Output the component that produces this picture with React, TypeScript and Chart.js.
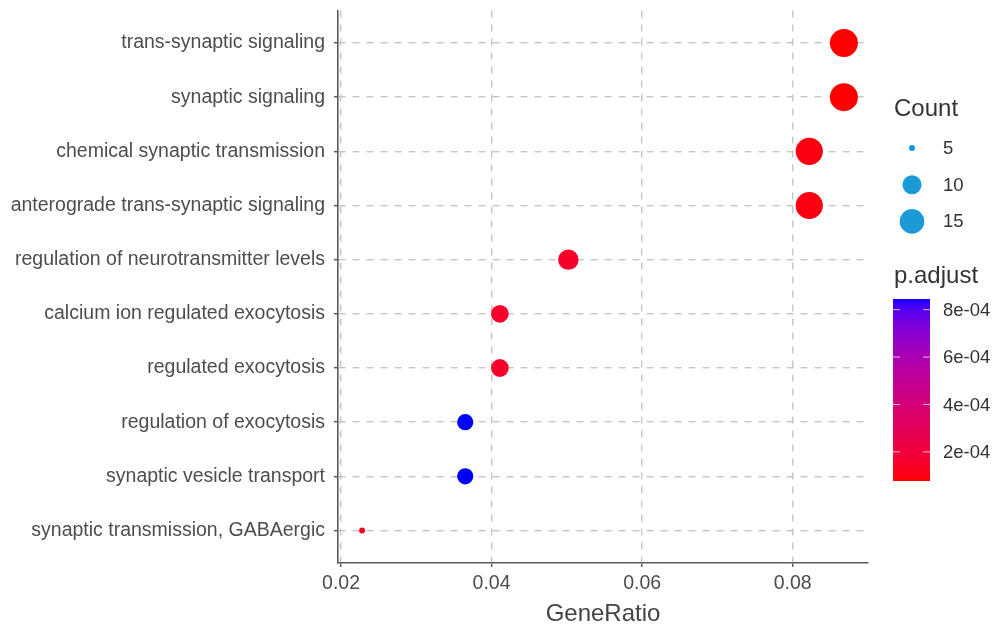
import React, { useEffect, useRef } from "react";
import { Chart, registerables } from "chart.js";

Chart.register(...registerables);

const FONT = "'Liberation Sans', Arial, Helvetica, sans-serif";

// ---- data ----
const categories = [
  "trans-synaptic signaling",
  "synaptic signaling",
  "chemical synaptic transmission",
  "anterograde trans-synaptic signaling",
  "regulation of neurotransmitter levels",
  "calcium ion regulated exocytosis",
  "regulated exocytosis",
  "regulation of exocytosis",
  "synaptic vesicle transport",
  "synaptic transmission, GABAergic",
];
const geneRatio = [0.0868, 0.0868, 0.0822, 0.0822, 0.0502, 0.0411, 0.0411, 0.0365, 0.0365, 0.0228];
const counts = [19, 19, 18, 18, 11, 9, 9, 8, 8, 5];
const pAdjust = [7.7e-5, 7.7e-5, 1.0e-4, 1.0e-4, 1.5e-4, 1.5e-4, 1.5e-4, 8.45e-4, 8.45e-4, 1.3e-4];
const xTicks = [0.02, 0.04, 0.06, 0.08];
const xTickLabels = ["0.02", "0.04", "0.06", "0.08"];
const countLegend = [5, 10, 15];
const pLegendTicks = [8e-4, 6e-4, 4e-4, 2e-4];
const pLegendLabels = ["8e-04", "6e-04", "4e-04", "2e-04"];

// ---- colour helpers (CIELAB interpolation like ggplot) ----
function toLin(c: number) {
  c /= 255;
  return c <= 0.04045 ? c / 12.92 : Math.pow((c + 0.055) / 1.055, 2.4);
}
function fromLin(c: number) {
  const v = c <= 0.0031308 ? 12.92 * c : 1.055 * Math.pow(c, 1 / 2.4) - 0.055;
  return Math.max(0, Math.min(255, Math.round(v * 255)));
}
function rgbToLab(rgb: number[]) {
  const R = toLin(rgb[0]), G = toLin(rgb[1]), B = toLin(rgb[2]);
  const X = (0.4124564 * R + 0.3575761 * G + 0.1804375 * B) / 0.95047;
  const Y = 0.2126729 * R + 0.7151522 * G + 0.072175 * B;
  const Z = (0.0193339 * R + 0.119192 * G + 0.9503041 * B) / 1.08883;
  const f = (t: number) => (t > 0.008856 ? Math.cbrt(t) : 7.787 * t + 16 / 116);
  const fx = f(X), fy = f(Y), fz = f(Z);
  return [116 * fy - 16, 500 * (fx - fy), 200 * (fy - fz)];
}
function labToRgb(lab: number[]) {
  const fy = (lab[0] + 16) / 116;
  const fx = fy + lab[1] / 500;
  const fz = fy - lab[2] / 200;
  const inv = (t: number) => (t * t * t > 0.008856 ? t * t * t : (t - 16 / 116) / 7.787);
  const X = inv(fx) * 0.95047, Y = inv(fy), Z = inv(fz) * 1.08883;
  const R = 3.2404542 * X - 1.5371385 * Y - 0.4985314 * Z;
  const G = -0.969266 * X + 1.8760108 * Y + 0.041556 * Z;
  const B = 0.0556434 * X - 0.2040259 * Y + 1.0572252 * Z;
  return `rgb(${fromLin(R)},${fromLin(G)},${fromLin(B)})`;
}
const LAB_LOW = rgbToLab([255, 0, 0]);
const LAB_HIGH = rgbToLab([0, 0, 255]);
const pMin = Math.min(...pAdjust);
const pMax = Math.max(...pAdjust);
function pColor(p: number) {
  const t = Math.max(0, Math.min(1, (p - pMin) / (pMax - pMin)));
  return labToRgb([0, 1, 2].map((k) => LAB_LOW[k] + t * (LAB_HIGH[k] - LAB_LOW[k])));
}

// size mapping (area scale, range 1..6)
const cMin = Math.min(...counts);
const cMax = Math.max(...counts);
function radiusOf(c: number) {
  const t = Math.max(0, (c - cMin) / (cMax - cMin));
  const size = 1 + 5 * Math.sqrt(t);
  return 2.2 * size + 0.8;
}

const xRange = Math.max(...geneRatio) - Math.min(...geneRatio);
const xMin = Math.min(...geneRatio) - 0.05 * xRange;
const xMax = Math.max(...geneRatio) + 0.05 * xRange;

const legendPlugin = {
  id: "ggLegend",
  afterDraw(chart: any) {
    const ctx = chart.ctx as CanvasRenderingContext2D;
    ctx.save();
    // Count legend
    ctx.fillStyle = "#333333";
    ctx.textAlign = "left";
    ctx.textBaseline = "alphabetic";
    ctx.font = `24px ${FONT}`;
    ctx.fillText("Count", 894, 116);
    ctx.font = `18.5px ${FONT}`;
    ctx.textBaseline = "middle";
    countLegend.forEach((c, i) => {
      const y = 148 + i * 36.7;
      ctx.beginPath();
      ctx.fillStyle = "#1a9ad6";
      ctx.arc(912, y, radiusOf(c), 0, Math.PI * 2);
      ctx.fill();
      ctx.fillStyle = "#333333";
      ctx.fillText(String(c), 943, y + 1);
    });
    // p.adjust colorbar
    ctx.textBaseline = "alphabetic";
    ctx.font = `24px ${FONT}`;
    ctx.fillText("p.adjust", 894, 283);
    const top = 299, bottom = 481, left = 893, w = 37;
    for (let py = top; py < bottom; py++) {
      const p = pMax - ((py + 0.5 - top) / (bottom - top)) * (pMax - pMin);
      ctx.fillStyle = pColor(p);
      ctx.fillRect(left, py, w, 1);
    }
    ctx.font = `18.5px ${FONT}`;
    ctx.textBaseline = "middle";
    pLegendTicks.forEach((p, i) => {
      const y = top + ((pMax - p) / (pMax - pMin)) * (bottom - top);
      ctx.strokeStyle = "rgba(255,255,255,0.75)";
      ctx.lineWidth = 1;
      ctx.beginPath();
      ctx.moveTo(left, y);
      ctx.lineTo(left + 7, y);
      ctx.moveTo(left + w - 7, y);
      ctx.lineTo(left + w, y);
      ctx.stroke();
      ctx.fillStyle = "#333333";
      ctx.fillText(pLegendLabels[i], 943, y + 1);
    });
    ctx.restore();
  },
};

export default function App() {
  const ref = useRef<HTMLCanvasElement>(null);
  useEffect(() => {
    if (!ref.current) return;
    Chart.defaults.font.family = FONT;
    const chart = new Chart(ref.current, {
      type: "bubble",
      data: {
        datasets: [
          {
            data: categories.map((_, i) => ({ x: geneRatio[i], y: i, r: radiusOf(counts[i]) })),
            backgroundColor: pAdjust.map((p) => pColor(p)),
            borderWidth: 0,
            hoverBorderWidth: 0,
          } as any,
        ],
      },
      options: {
        animation: false,
        responsive: false,
        events: [],
        layout: { autoPadding: false, padding: { left: 0, right: 126, top: 10.5, bottom: 0 } },
        plugins: { legend: { display: false }, tooltip: { enabled: false } },
        scales: {
          x: {
            type: "linear",
            min: xMin,
            max: xMax,
            afterBuildTicks: (s: any) => {
              s.ticks = xTicks.map((v) => ({ value: v }));
            },
            afterFit: (s: any) => {
              s.height = 67;
              s.paddingLeft = 0;
              s.paddingRight = 0;
            },
            ticks: {
              callback: (v: any) => xTickLabels[xTicks.indexOf(Number(v))] ?? "",
              font: { size: 19.5 },
              color: "#4d4d4d",
              padding: 5,
              maxRotation: 0,
            },
            grid: {
              color: "#c6c6c6",
              lineWidth: 1.4,
              tickColor: "#5a5a5a",
              tickWidth: 1.5,
              tickLength: 4,
            },
            border: { display: true, color: "#5a5a5a", width: 1.6, dash: [7, 7] },
            title: {
              display: true,
              text: "GeneRatio",
              font: { size: 24 },
              color: "#444444",
              padding: { top: 0, bottom: 1 },
            },
          },
          y: {
            type: "linear",
            reverse: true,
            min: -0.6,
            max: categories.length - 1 + 0.6,
            afterBuildTicks: (s: any) => {
              s.ticks = categories.map((_, i) => ({ value: i }));
            },
            afterFit: (s: any) => {
              s.width = 338;
              s.paddingTop = 0;
              s.paddingBottom = 0;
            },
            ticks: {
              callback: (v: any) => categories[Number(v)] ?? "",
              font: { size: 19.5 },
              color: "#4d4d4d",
              padding: 9,
            },
            grid: {
              color: "#c6c6c6",
              lineWidth: 1.4,
              tickColor: "#5a5a5a",
              tickWidth: 1.5,
              tickLength: 4,
            },
            border: { display: true, color: "#5a5a5a", width: 1.6, dash: [7, 7] },
          },
        },
      } as any,
      plugins: [legendPlugin],
    });
    return () => chart.destroy();
  }, []);
  return (
    <div style={{ position: "fixed", left: 0, top: 0, width: 994, height: 630, background: "#ffffff" }}>
      <canvas ref={ref} width={994} height={630} style={{ display: "block", width: 994, height: 630 }} />
    </div>
  );
}
